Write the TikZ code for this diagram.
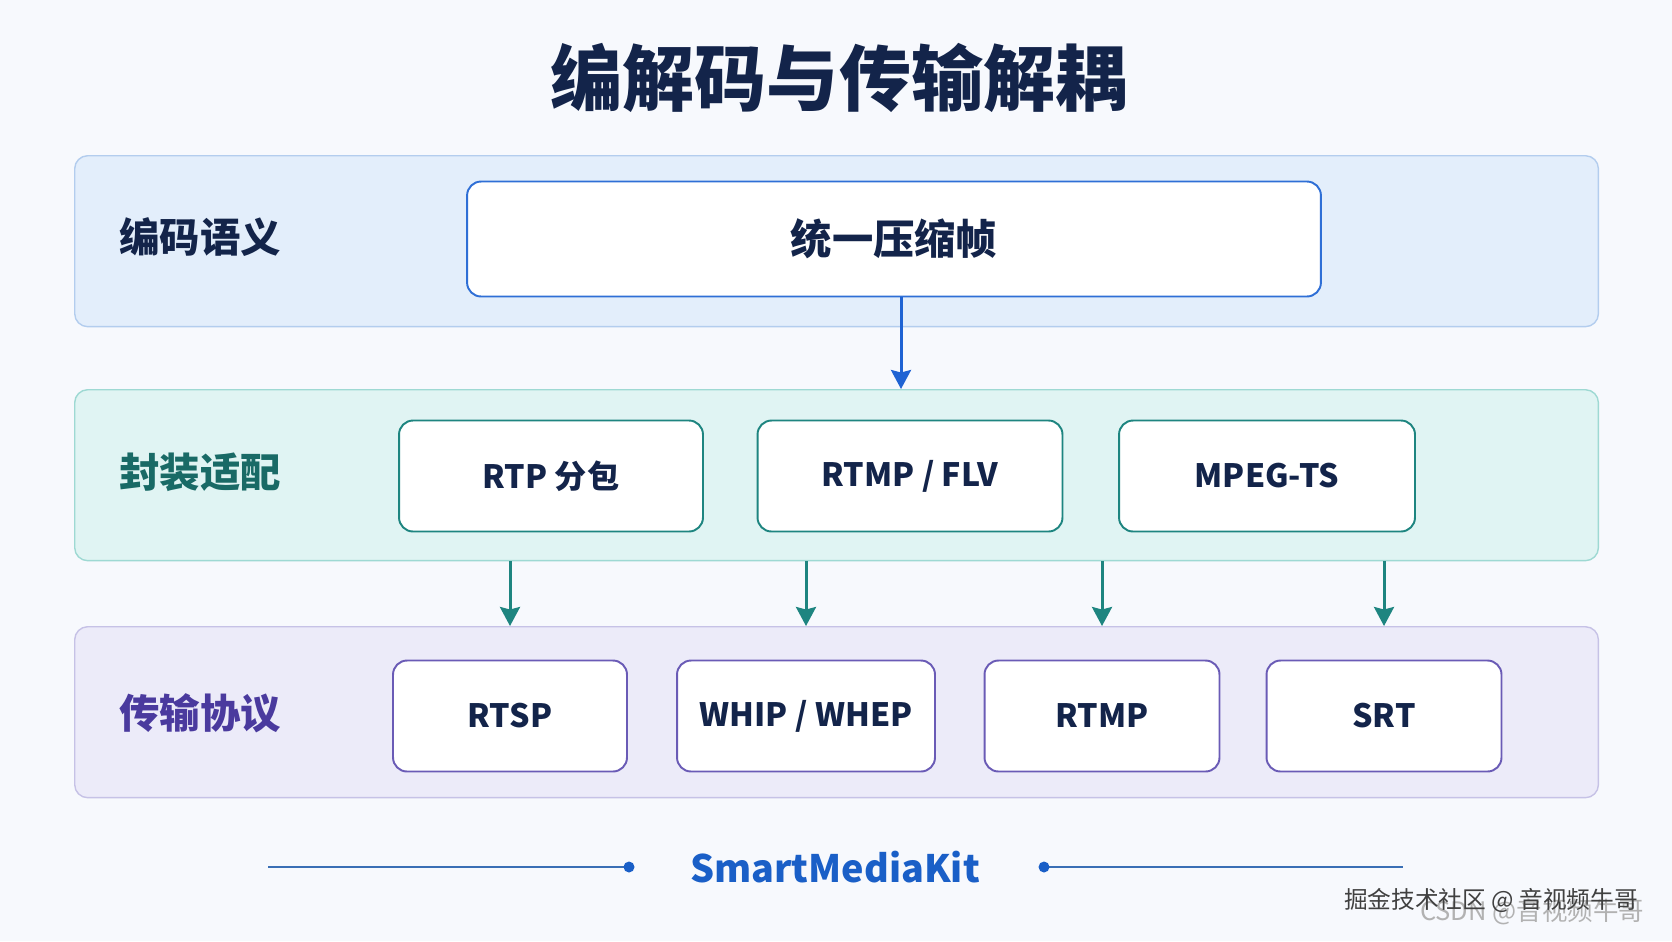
\documentclass[tikz,border=0pt]{standalone}
\usepackage{fontspec}
\setmainfont{Noto Sans CJK SC}
\usetikzlibrary{arrows.meta,positioning}
\definecolor{paper}{HTML}{F7F9FD}
\definecolor{ink}{HTML}{13244A}
\definecolor{bluefill}{HTML}{E3EEFB}
\definecolor{blueline}{HTML}{B3CDEE}
\definecolor{bluebox}{HTML}{2F6FD6}
\definecolor{bluearrow}{HTML}{1F63D3}
\definecolor{tealfill}{HTML}{E0F4F3}
\definecolor{tealline}{HTML}{9ED9D3}
\definecolor{tealbox}{HTML}{1E8580}
\definecolor{tealtext}{HTML}{196A66}
\definecolor{purpfill}{HTML}{ECEBF9}
\definecolor{purpline}{HTML}{C6C2E6}
\definecolor{purpbox}{HTML}{6A5BB6}
\definecolor{purptext}{HTML}{4A3A9E}
\definecolor{brand}{HTML}{1A5FC7}
\definecolor{brandline}{HTML}{3A6FB5}

\begin{document}
\begin{tikzpicture}[x=0.02cm,y=-0.02cm,font=\bfseries,
    band/.style={draw=#1,line width=0.8pt,rounded corners=0.26cm,
      minimum width=30.48cm,minimum height=3.42cm,inner sep=0pt,anchor=north west},
    tag/.style={anchor=west,inner sep=0pt,font=\fontsize{23}{26}\selectfont\bfseries},
    box/.style={draw=#1,fill=white,line width=1.1pt,rounded corners=0.28cm,
      minimum height=2.22cm,inner sep=0pt,text=ink,
      font=\fontsize{18.3}{22}\selectfont\bfseries},
    flow/.style={-{Stealth[length=3.8mm,width=4mm,inset=0.5mm]},line width=1.7pt,#1}]
  \fill[paper] (0,0) rectangle (1672,941);

  \node[ink,font=\fontsize{41}{46}\selectfont\bfseries] (title) at (839,78) {编解码与传输解耦};

  % three layers
  \node[band=blueline,fill=bluefill] (codec) at (74,155) {};
  \node[band=tealline,fill=tealfill] (pack) at (74,389) {};
  \node[band=purpline,fill=purpfill] (trans) at (74,626) {};

  \node[tag,text=ink] (codectag) at (119,237) {编码语义};
  \node[tag,text=tealtext] (packtag) at (119,472) {封装适配};
  \node[tag,text=purptext] (transtag) at (119,713) {传输协议};

  \node[box=bluebox,minimum width=17.08cm,minimum height=2.3cm,
    font=\fontsize{23.5}{26}\selectfont\bfseries] (frame) at (894,239) {统一压缩帧};

  \node[box=tealbox,minimum width=6.08cm] (rtp) at (551,476) {RTP 分包};
  \node[box=tealbox,minimum width=6.1cm] (flv) at (910,476) {RTMP / FLV};
  \node[box=tealbox,minimum width=5.92cm] (ts) at (1267,476) {MPEG-TS};

  \node[box=purpbox,minimum width=4.68cm] (rtsp) at (510,716) {RTSP};
  \node[box=purpbox,minimum width=5.16cm] (whip) at (806,716) {WHIP / WHEP};
  \node[box=purpbox,minimum width=4.7cm] (rtmp) at (1102,716) {RTMP};
  \node[box=purpbox,minimum width=4.7cm] (srt) at (1384,716) {SRT};

  \draw[flow=bluearrow] ([xshift=0.14cm]frame.south) -- ([xshift=0.14cm]frame.south |- pack.north);
  \foreach \p in {rtsp,whip,rtmp,srt}
    \draw[flow=tealbox] (\p |- pack.south) -- (\p |- trans.north);

  % footer
  \node[brand,font=\fontsize{21.5}{24}\selectfont\bfseries] (kit) at (835,867) {SmartMediaKit};
  \coordinate (la) at (268,867);
  \coordinate (lb) at (629,867);
  \coordinate (ra) at (1044,867);
  \coordinate (rb) at (1403,867);
  \draw[brandline,line width=1.2pt] (la) -- (lb);
  \draw[brandline,line width=1.2pt] (ra) -- (rb);
  \fill[brand] (lb) circle (5.5);
  \fill[brand] (ra) circle (5.5);

  \node[black!30,font=\fontsize{14.5}{16}\selectfont] (csdn) at (1532,912) {CSDN @音视频牛哥};
  \node[black!75,font=\fontsize{13.5}{16}\selectfont] (mark) at (1491,900) {掘金技术社区 @ 音视频牛哥};
\end{tikzpicture}
\end{document}
